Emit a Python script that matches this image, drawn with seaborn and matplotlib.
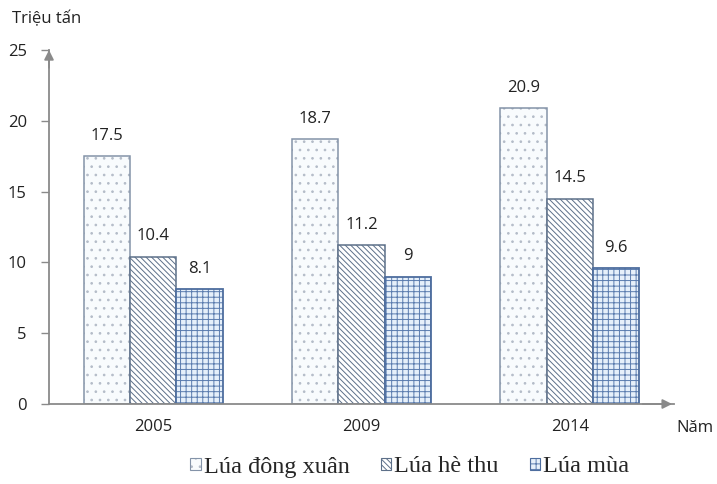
import matplotlib
matplotlib.use("Agg")
import matplotlib.pyplot as plt
import matplotlib.colors as mcolors
import seaborn as sns
import pandas as pd
from matplotlib.patches import Patch

years = ["2005", "2009", "2014"]
series = ["Lúa đông xuân", "Lúa hè thu", "Lúa mùa"]
dong_xuan = [17.5, 18.7, 20.9]
he_thu = [10.4, 11.2, 14.5]
mua = [8.1, 9.0, 9.6]
value_labels = [["17.5", "18.7", "20.9"], ["10.4", "11.2", "14.5"], ["8.1", "9", "9.6"]]
y_ticks = [0, 5, 10, 15, 20, 25]

df = pd.DataFrame({
    "Năm": years * 3,
    "Vụ": [series[0]] * 3 + [series[1]] * 3 + [series[2]] * 3,
    "Sản lượng": dong_xuan + he_thu + mua,
})

sns.set_style("white")
plt.rcParams["font.family"] = ["Open Sans", "DejaVu Sans"]
plt.rcParams["hatch.linewidth"] = 0.7

fig = plt.figure(figsize=(7.17, 4.84), dpi=100)
ax = fig.add_axes([49 / 717, 1 - 404 / 484, (674 - 49) / 717, (404 - 50) / 484])

styles = [
    dict(fc="#f8fbfd", ec="#8493a8", hc="#b4bcc8", hatch="..", lw=1.1),
    dict(fc="#ffffff", ec="#5d7089", hc="#5d7089", hatch="\\\\\\\\\\\\", lw=1.1),
    dict(fc="#e6f0fa", ec="#4d6d9e", hc="#5b7cae", hatch="+++", lw=1.3),
]

sns.barplot(data=df, x="Năm", y="Sản lượng", hue="Vụ", order=years,
            hue_order=series, width=0.667, gap=0, ax=ax, legend=False,
            saturation=1)


def style_patch(p, st):
    p.set_facecolor(st["fc"])
    p.set_edgecolor(st["ec"])
    p.set_hatch(st["hatch"])
    p.set_linewidth(st["lw"])
    p._hatch_color = mcolors.to_rgba(st["hc"])


for cont, st, labs in zip(ax.containers, styles, value_labels):
    for bar in cont:
        style_patch(bar, st)
    ax.bar_label(cont, labels=labs, padding=9, fontsize=12, color="#222222")

axis_color = "#8a8a8a"
ax.set_xlim(-0.5, 2.5)
ax.set_ylim(0, 25)
ax.set_yticks(y_ticks)
ax.set_yticklabels([str(v) for v in y_ticks])
ax.set_xticks([0, 1, 2])
ax.set_xticklabels(years)
ax.set_xticks([-0.5, 0.5, 1.5], minor=True)
ax.tick_params(axis="x", which="major", length=0, pad=11, labelsize=12, labelcolor="#222222")
ax.tick_params(axis="x", which="minor", length=6, direction="inout", color=axis_color, width=1)
ax.tick_params(axis="y", length=6, direction="out", color=axis_color, width=1,
               pad=10, labelsize=12, labelcolor="#222222", left=True)
ax.set_xlabel("")
ax.set_ylabel("")
for s in ["top", "right"]:
    ax.spines[s].set_visible(False)
for s in ["left", "bottom"]:
    ax.spines[s].set_color(axis_color)
    ax.spines[s].set_linewidth(1.3)

ax.annotate("", xy=(0, 1.0), xytext=(0, 0.95), xycoords="axes fraction",
            arrowprops=dict(arrowstyle="-|>", color=axis_color, lw=1.3, mutation_scale=14,
                            shrinkA=0, shrinkB=0))
ax.annotate("", xy=(0.997, 0), xytext=(0.95, 0), xycoords="axes fraction",
            arrowprops=dict(arrowstyle="-|>", color=axis_color, lw=1.3, mutation_scale=14,
                            shrinkA=0, shrinkB=0))

fig.text(12 / 717, 1 - 19 / 484, "Triệu tấn", fontsize=12, color="#222222", va="center", ha="left")
fig.text(676 / 717, 1 - 428 / 484, "Năm", fontsize=12, color="#222222", va="center", ha="left")

handles = []
for st in styles:
    h = Patch(facecolor=st["fc"], edgecolor=st["ec"], hatch=st["hatch"], lw=0.8)
    h._hatch_color = mcolors.to_rgba(st["hc"])
    handles.append(h)
fig.legend(handles, series, loc="center", bbox_to_anchor=(410 / 717, 1 - 467 / 484),
           ncol=3, frameon=False, handlelength=0.42, handleheight=0.42,
           handletextpad=0.12, columnspacing=1.3, borderaxespad=0, borderpad=0,
           prop={"family": "Liberation Serif", "size": 17.5})

fig.savefig("out.png", dpi=100)
